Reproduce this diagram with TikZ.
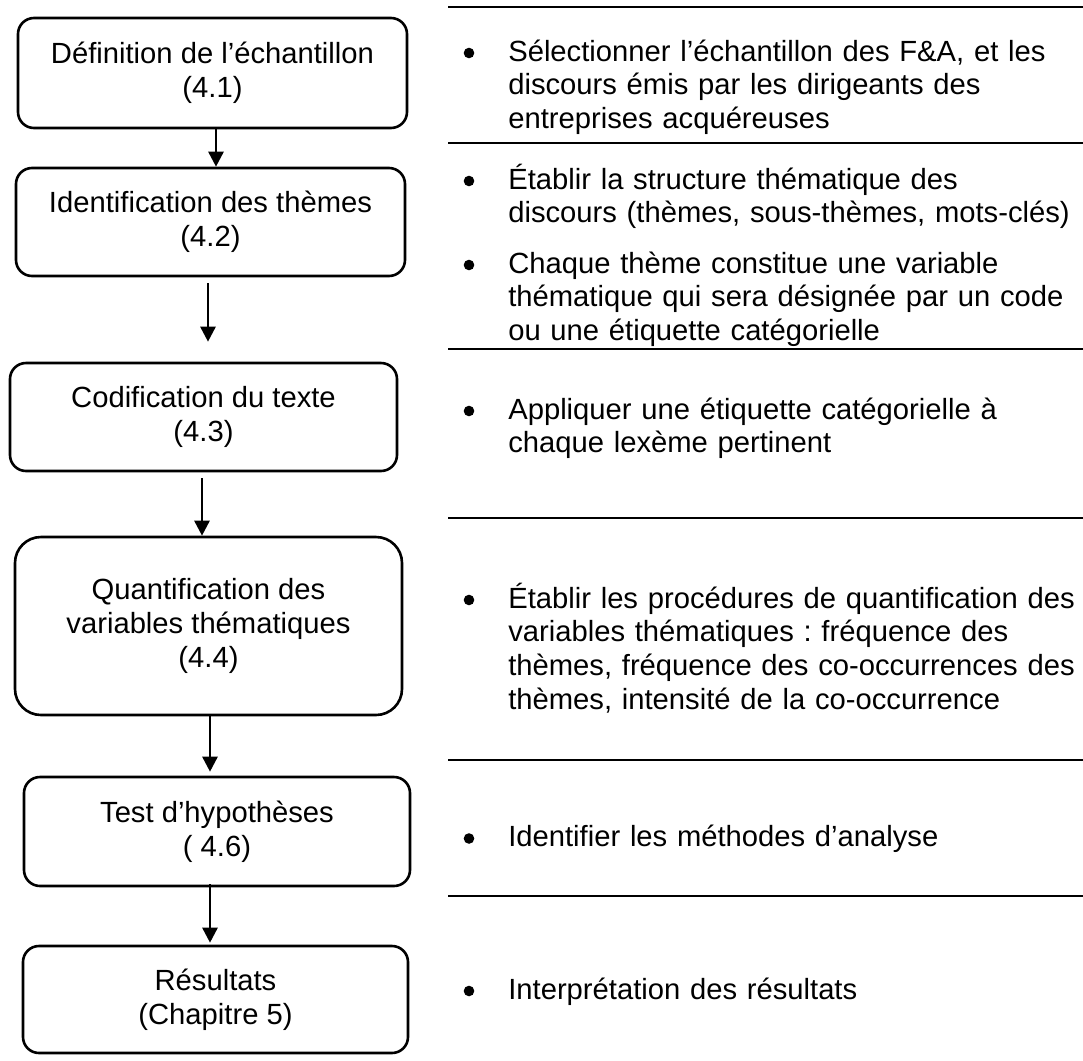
\documentclass[tikz,border=0pt]{standalone}
\usepackage{fontspec}
\setmainfont{Liberation Sans}
\usetikzlibrary{calc,arrows.meta}
\frenchspacing

\begin{document}
\begin{tikzpicture}[x=0.5pt,y=-0.5pt,>={Triangle[length=7.5pt,width=7.5pt]},line width=1.3pt,
	font=\fontsize{14.6}{16.9}\selectfont,
	etape/.style={draw,rounded corners=8pt,align=center,inner sep=0pt},
	texte/.style={anchor=base west,align=left,text width=288pt,inner sep=0pt}]
	\useasboundingbox (0,0) rectangle (1083,1061);

	% etapes
	\node[etape,minimum width=194.5pt,minimum height=55pt] (def) at (212.5,73) {Définition de l’échantillon\\(4.1)};
	\node[etape,minimum width=194.5pt,minimum height=54pt] (idt) at (210.5,222) {Identification des thèmes\\(4.2)};
	\node[etape,minimum width=193.5pt,minimum height=54pt] (cod) at (203.5,417) {Codification du texte\\(4.3)};
	\node[etape,minimum width=193.5pt,minimum height=89pt,rounded corners=13pt] (qua) at (208.5,626) {Quantification des\\variables thématiques\\(4.4)};
	\node[etape,minimum width=193pt,minimum height=54.5pt] (tst) at (217,831.5) {Test d’hypothèses\\( 4.6)};
	\node[etape,minimum width=192.5pt,minimum height=53.5pt] (res) at (215.5,999.5) {Résultats\\(Chapitre 5)};

	\draw[->] ($(def.south)+(3.5,0)$) -- ($(def.south |- idt.north)+(3.5,0)$);
	\draw[->] ($(idt.south)+(-2.5,6)$) -- ($(idt.south |- cod.north)+(-2.5,-20)$);
	\draw[->] ($(cod.south)+(-1.5,6)$) -- ($(cod.south |- qua.north)+(-1.5,0)$);
	\draw[->] ($(qua.south)+(1.5,-2)$) -- ($(qua.south |- tst.north)+(1.5,-4)$);
	\draw[->] ($(tst.south)+(-7,-3)$) -- ($(tst.south |- res.north)+(-7,-2)$);

	% descriptions
	\node[texte] (sel) at (507,61) {Sélectionner l’échantillon des F\&A, et les\\discours émis par les dirigeants des\\entreprises acquéreuses};
	\node[texte] (str) at (507,189) {Établir la structure thématique des\\discours (thèmes, sous-thèmes, mots-clés)};
	\node[texte] (var) at (507,273) {Chaque thème constitue une variable\\thématique qui sera désignée par un code\\ou une étiquette catégorielle};
	\node[texte] (app) at (507,419) {Appliquer une étiquette catégorielle à\\chaque lexème pertinent};
	\node[texte] (proc) at (507,608) {Établir les procédures de quantification des\\variables thématiques : fréquence des\\thèmes, fréquence des co-occurrences des\\thèmes, intensité de la co-occurrence};
	\node[texte] (meth) at (507,846.5) {Identifier les méthodes d’analyse};
	\node[texte] (interp) at (507,999) {Interprétation des résultats};

	\fill ($(sel.base west)+(-38,-8)$) circle (5.3);
	\fill ($(str.base west)+(-38,-8)$) circle (5.3);
	\fill ($(var.base west)+(-38,-8)$) circle (5.3);
	\fill ($(app.base west)+(-38,-8)$) circle (5.3);
	\fill ($(proc.base west)+(-38,-8)$) circle (5.3);
	\fill ($(meth.base west)+(-38,-8)$) circle (5.3);
	\fill ($(interp.base west)+(-38,-8)$) circle (5.3);

	\draw (448,7) -- (1083,7);
	\draw (448,143) -- (1083,143);
	\draw (448,349) -- (1083,349);
	\draw (448,518) -- (1083,518);
	\draw (448,760) -- (1083,760);
	\draw (448,896) -- (1083,896);
\end{tikzpicture}
\end{document}
